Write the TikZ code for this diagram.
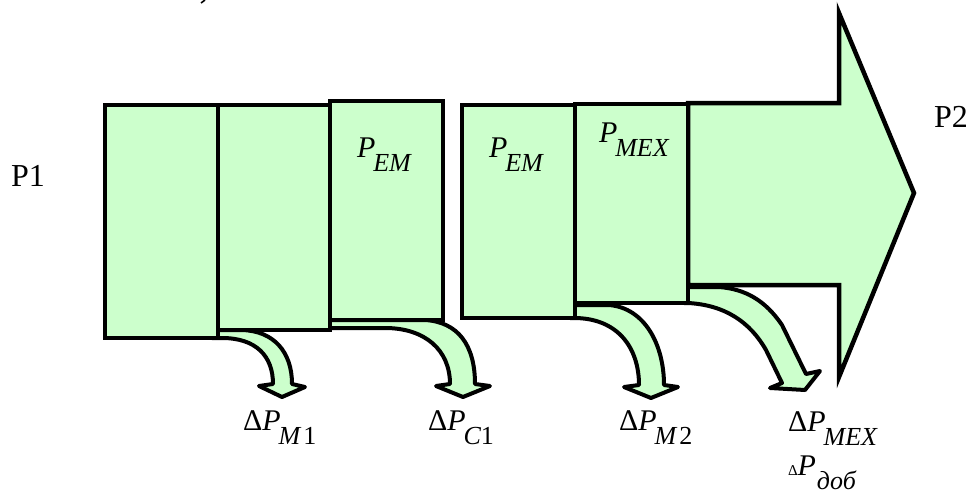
\documentclass[tikz,border=0pt]{standalone}
\usepackage{fontspec}
\setmainfont{Liberation Serif}
\definecolor{lgreen}{HTML}{CCFFCC}
\newcommand\mysub[1]{\raisebox{-14pt}{\fontsize{26}{26}\selectfont #1}}
\newcommand\mymain[1]{{\fontsize{30}{30}\selectfont #1}}
\begin{document}
\begin{tikzpicture}[x=1pt,y=-1pt,
  gbox/.style={fill=lgreen,draw=black,line width=4.5pt},
  flow/.style={fill=lgreen,draw=black,line width=4pt,line join=round},
  lbl/.style={anchor=base west,inner sep=0pt,outer sep=0pt},
  big/.style={font=\fontsize{32}{32}\selectfont}]
\useasboundingbox (0,0) rectangle (972,495);
% tiny cut-off stroke at top
\draw[line width=1.6pt] (201,3) -- (205,0);
% curved loss arrows
\draw[flow] (212,338) -- (222,338) .. controls (256,338) and (273,356) .. (273,384)
  -- (259,386) -- (282,397) -- (305,387) -- (292,384)
  .. controls (292,352) and (274,331) .. (242,330) -- (212,330) -- cycle;
\draw[flow] (325,328) -- (385,328) .. controls (425,328) and (450,350) .. (450,384)
  -- (436,386) -- (463,397) -- (490,386) -- (475,384)
  .. controls (475,345) and (458,322) .. (425,320) -- (325,320) -- cycle;
\draw[flow] (570,318) -- (574,318) .. controls (618,318) and (639,348) .. (639,385)
  -- (624,387) -- (651,398) -- (678,387) -- (664,385)
  .. controls (664,345) and (645,308) .. (609,305) -- (570,305) -- cycle;
\draw[flow] (684,303) -- (688,303) .. controls (725,305) and (750,322) .. (766,350)
  -- (782,383) -- (770,388) -- (805,390) -- (820,371) -- (806,374)
  -- (782,325) .. controls (765,300) and (745,289) .. (719,287) -- (684,287) -- cycle;
% big arrow
\draw[gbox] (688,103) -- (839,103) -- (839,13) -- (914,193) -- (839,377) -- (839,285) -- (688,285) -- cycle;
% boxes
\draw[gbox] (105,105) rectangle (218,338);
\draw[gbox] (218,105) rectangle (330,330);
\draw[gbox] (330,101) rectangle (443,320);
\draw[gbox] (462,105) rectangle (575,318);
\draw[gbox] (575,104) rectangle (688,303);
% labels
\node[big] (p1) at (28,176) {P1};
\node[big] (p2) at (951,117) {P2};
\node[lbl] (pem1) at (357,157) {\mymain{\itshape P}\kern-2pt\mysub{\itshape EM}};
\node[lbl] (pem2) at (489,157) {\mymain{\itshape P}\kern-2pt\mysub{\itshape EM}};
\node[lbl] (pmex) at (599,142) {\mymain{\itshape P}\kern-2pt\mysub{\itshape MEX}};
\node[lbl] (dm1) at (243,430) {\mymain{Δ\itshape P}\kern-2pt\mysub{\itshape M\kern3pt\upshape 1}};
\node[lbl] (dc1) at (428,430) {\mymain{Δ\itshape P}\kern-2pt\mysub{\itshape C\upshape 1}};
\node[lbl] (dm2) at (619,430) {\mymain{Δ\itshape P}\kern-2pt\mysub{\itshape M\kern3pt\upshape 2}};
\node[lbl] (dmex) at (788,431) {\mymain{Δ\itshape P}\kern-2pt\mysub{\itshape MEX}};
\node[lbl] (ddob) at (788,475) {{\fontsize{15}{15}\selectfont Δ}\mymain{\itshape P}\kern1pt\mysub{\itshape доб}};
\end{tikzpicture}
\end{document}
